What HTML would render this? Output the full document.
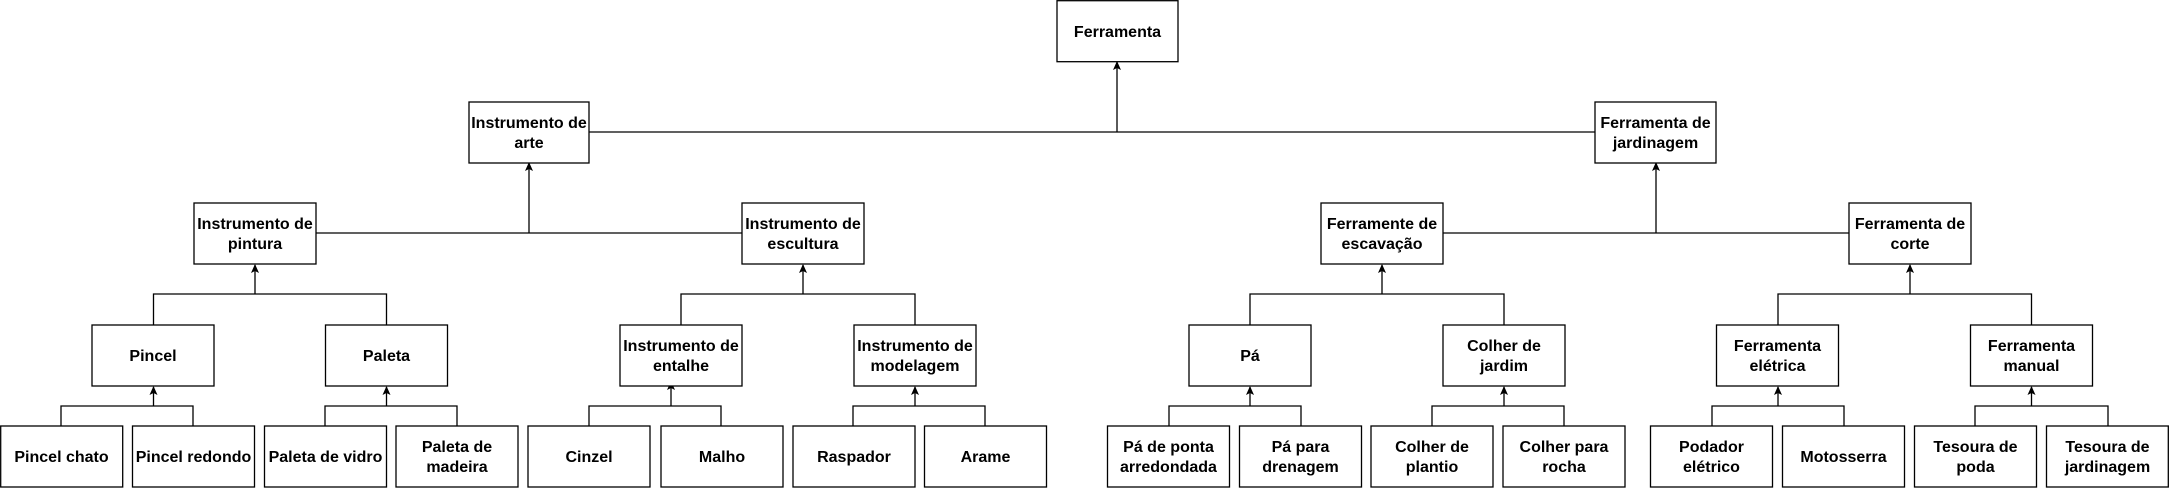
<!DOCTYPE html>
<html><head><meta charset="utf-8"><style>
html,body{margin:0;padding:0;background:#fff;}
svg{display:block;}
text{font-family:"Liberation Sans",Arial,sans-serif;font-weight:bold;font-size:16px;fill:#000;text-anchor:middle;}
rect{fill:#fff;stroke:#000;stroke-width:1.3;}
line,polyline{stroke:#000;stroke-width:1.3;fill:none;}
</style></head><body>
<svg width="2169" height="488" viewBox="0 0 2169 488" xmlns="http://www.w3.org/2000/svg">
<defs><marker id="a" markerWidth="10" markerHeight="10" refX="8" refY="4" orient="auto" markerUnits="userSpaceOnUse"><path d="M0,0 L9,4 L0,8 L2,4 Z" fill="#000"/></marker></defs>

<!-- connectors -->
<line x1="589" y1="132" x2="1595" y2="132"/>
<line x1="1117" y1="132" x2="1117" y2="62" marker-end="url(#a)"/>

<line x1="316" y1="233" x2="742" y2="233"/>
<line x1="529" y1="233" x2="529" y2="163" marker-end="url(#a)"/>
<line x1="1443" y1="233" x2="1849" y2="233"/>
<line x1="1656" y1="233" x2="1656" y2="163" marker-end="url(#a)"/>

<polyline points="153.5,325 153.5,294 386.5,294 386.5,325"/>
<line x1="255" y1="294" x2="255" y2="265" marker-end="url(#a)"/>
<polyline points="681,325 681,294 915,294 915,325"/>
<line x1="803" y1="294" x2="803" y2="265" marker-end="url(#a)"/>
<polyline points="1250,325 1250,294 1504,294 1504,325"/>
<line x1="1382" y1="294" x2="1382" y2="265" marker-end="url(#a)"/>
<polyline points="1778,325 1778,294 2031.5,294 2031.5,325"/>
<line x1="1910" y1="294" x2="1910" y2="265" marker-end="url(#a)"/>

<polyline points="61,426 61,406 193,406 193,426"/>
<line x1="153.5" y1="406" x2="153.5" y2="387" marker-end="url(#a)"/>
<polyline points="325,426 325,406 457,406 457,426"/>
<line x1="386.5" y1="406" x2="386.5" y2="387" marker-end="url(#a)"/>
<polyline points="589,426 589,406 721,406 721,426"/>
<line x1="671" y1="406" x2="671" y2="382" marker-end="url(#a)"/>
<polyline points="853,426 853,406 985,406 985,426"/>
<line x1="915" y1="406" x2="915" y2="387" marker-end="url(#a)"/>
<polyline points="1169,426 1169,406 1301,406 1301,426"/>
<line x1="1250" y1="406" x2="1250" y2="387" marker-end="url(#a)"/>
<polyline points="1432,426 1432,406 1564,406 1564,426"/>
<line x1="1504" y1="406" x2="1504" y2="387" marker-end="url(#a)"/>
<polyline points="1712,426 1712,406 1844,406 1844,426"/>
<line x1="1778" y1="406" x2="1778" y2="387" marker-end="url(#a)"/>
<polyline points="1975,426 1975,406 2108,406 2108,426"/>
<line x1="2031.5" y1="406" x2="2031.5" y2="387" marker-end="url(#a)"/>

<!-- level 0 -->
<rect x="1057" y="0.7" width="121" height="61"/><text x="1117.5" y="37">Ferramenta</text>
<!-- level 1 -->
<rect x="469" y="102" width="120" height="61"/><text x="529" y="128">Instrumento de</text><text x="529" y="148">arte</text>
<rect x="1595" y="102" width="121" height="61"/><text x="1655.5" y="128">Ferramenta de</text><text x="1655.5" y="148">jardinagem</text>
<!-- level 2 -->
<rect x="194" y="203" width="122" height="61"/><text x="255" y="229">Instrumento de</text><text x="255" y="249">pintura</text>
<rect x="742" y="203" width="122" height="61"/><text x="803" y="229">Instrumento de</text><text x="803" y="249">escultura</text>
<rect x="1321" y="203" width="122" height="61"/><text x="1382" y="229">Ferramente de</text><text x="1382" y="249">escavação</text>
<rect x="1849" y="203" width="122" height="61"/><text x="1910" y="229">Ferramenta de</text><text x="1910" y="249">corte</text>
<!-- level 3 -->
<rect x="92" y="325" width="122" height="61"/><text x="153" y="361">Pincel</text>
<rect x="325.5" y="325" width="122" height="61"/><text x="386.5" y="361">Paleta</text>
<rect x="620" y="325" width="122" height="61"/><text x="681" y="351">Instrumento de</text><text x="681" y="371">entalhe</text>
<rect x="854" y="325" width="122" height="61"/><text x="915" y="351">Instrumento de</text><text x="915" y="371">modelagem</text>
<rect x="1189" y="325" width="122" height="61"/><text x="1250" y="361">Pá</text>
<rect x="1443" y="325" width="122" height="61"/><text x="1504" y="351">Colher de</text><text x="1504" y="371">jardim</text>
<rect x="1716.5" y="325" width="122" height="61"/><text x="1777.5" y="351">Ferramenta</text><text x="1777.5" y="371">elétrica</text>
<rect x="1970.5" y="325" width="122" height="61"/><text x="2031.5" y="351">Ferramenta</text><text x="2031.5" y="371">manual</text>
<!-- level 4 -->
<rect x="0.7" y="426" width="122" height="61"/><text x="61.5" y="462">Pincel chato</text>
<rect x="132.5" y="426" width="122" height="61"/><text x="193.5" y="462">Pincel redondo</text>
<rect x="264.5" y="426" width="122" height="61"/><text x="325.5" y="462">Paleta de vidro</text>
<rect x="396" y="426" width="122" height="61"/><text x="457" y="452">Paleta de</text><text x="457" y="472">madeira</text>
<rect x="528" y="426" width="122" height="61"/><text x="589" y="462">Cinzel</text>
<rect x="661" y="426" width="122" height="61"/><text x="722" y="462">Malho</text>
<rect x="793" y="426" width="122" height="61"/><text x="854" y="462">Raspador</text>
<rect x="924.5" y="426" width="122" height="61"/><text x="985.5" y="462">Arame</text>
<rect x="1107.5" y="426" width="122" height="61"/><text x="1168.5" y="452">Pá de ponta</text><text x="1168.5" y="472">arredondada</text>
<rect x="1239.5" y="426" width="122" height="61"/><text x="1300.5" y="452">Pá para</text><text x="1300.5" y="472">drenagem</text>
<rect x="1371" y="426" width="122" height="61"/><text x="1432" y="452">Colher de</text><text x="1432" y="472">plantio</text>
<rect x="1503" y="426" width="122" height="61"/><text x="1564" y="452">Colher para</text><text x="1564" y="472">rocha</text>
<rect x="1650.5" y="426" width="122" height="61"/><text x="1711.5" y="452">Podador</text><text x="1711.5" y="472">elétrico</text>
<rect x="1782.5" y="426" width="122" height="61"/><text x="1843.5" y="462">Motosserra</text>
<rect x="1914.5" y="426" width="122" height="61"/><text x="1975.5" y="452">Tesoura de</text><text x="1975.5" y="472">poda</text>
<rect x="2046.5" y="426" width="121.8" height="61"/><text x="2107.5" y="452">Tesoura de</text><text x="2107.5" y="472">jardinagem</text>
</svg>
</body></html>
